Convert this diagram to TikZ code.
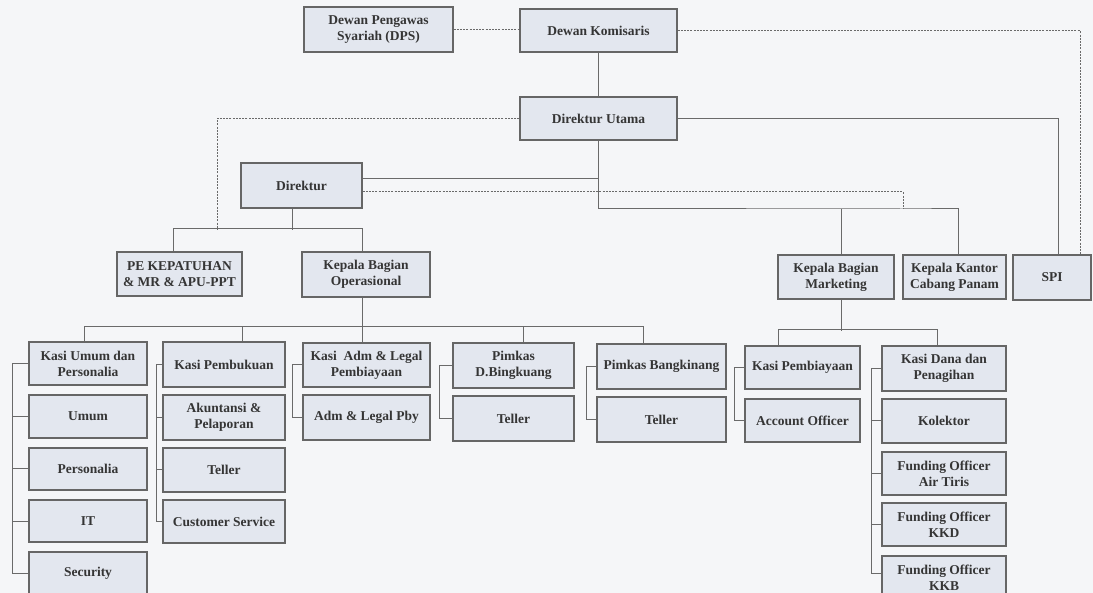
\documentclass[tikz,border=0pt]{standalone}
\usepackage{fontspec}
\setmainfont{Liberation Serif}
\usetikzlibrary{calc}
\definecolor{bg}{HTML}{F5F6F8}
\definecolor{boxfill}{HTML}{E3E7EF}
\definecolor{boxline}{HTML}{666666}
\definecolor{wirec}{HTML}{6A6A6A}
\definecolor{txt}{HTML}{353535}
\tikzset{
  box/.style={draw=boxline, line width=1.3pt, fill=boxfill, text=txt,
    font=\fontsize{13.5}{16}\selectfont\bfseries, align=center, inner sep=0pt},
  wire/.style={draw=wirec, line width=1pt},
  dsh/.style={draw=wirec, line width=1pt, dash pattern=on 2pt off 1.2pt},
}
\newcommand\bx[6]{\node[box, minimum width={#4-#2}, minimum height={#5-#3}] (#1) at ({(#2+#4)/2},{(#3+#5)/2}) {#6};}
\newcommand\brk[4]{% head, last, offset, list of middles
  \draw[wire] (#1.west) -- ++(-#3,0) |- (#2.west);
  \foreach \m in {#4} {\draw[wire] (\m.west) -- ++(-#3,0);}
}
\begin{document}
\begin{tikzpicture}[x=1pt,y=-1pt]
\fill[bg] (0,0) rectangle (1093,593);
\useasboundingbox (0,0) rectangle (1093,593);
\clip (0,0) rectangle (1093,593);

% top
\bx{dps}{304}{7}{453}{52}{Dewan Pengawas\\Syariah (DPS)}
\bx{dk}{520}{9}{677}{52}{Dewan Komisaris}
\bx{du}{520}{97}{677}{140}{Direktur Utama}
\bx{dir}{241}{163}{362}{208}{Direktur}
\bx{pe}{117}{252}{242}{296}{PE KEPATUHAN\\\& MR \& APU-PPT}
\bx{kbo}{302}{252}{430}{297}{Kepala Bagian\\Operasional}
\bx{kbm}{778}{255}{894}{299}{Kepala Bagian\\Marketing}
\bx{kkc}{903}{255}{1006}{299}{Kepala Kantor\\Cabang Panam}
\bx{spi}{1013}{255}{1091}{300}{SPI}

% column 1
\bx{kup}{29}{342}{147}{385}{Kasi Umum dan\\Personalia}
\bx{umum}{29}{395}{147}{438}{Umum}
\bx{pers}{29}{448}{147}{490}{Personalia}
\bx{it}{29}{500}{147}{542}{IT}
\bx{sec}{29}{552}{147}{594}{Security}
% column 2
\bx{kpb}{163}{342}{285}{387}{Kasi Pembukuan}
\bx{akt}{163}{395}{285}{440}{Akuntansi \&\\Pelaporan}
\bx{tel1}{163}{448}{285}{492}{Teller}
\bx{cs}{163}{500}{285}{543}{Customer Service}
% column 3
\bx{kal}{303}{343}{430}{387}{Kasi\ \ Adm \& Legal\\Pembiayaan}
\bx{alp}{303}{395}{430}{440}{Adm \& Legal Pby}
% column 4
\bx{pdb}{453}{343}{574}{388}{Pimkas\\D.Bingkuang}
\bx{tel2}{453}{396}{574}{441}{Teller}
% column 5
\bx{pbk}{597}{344}{726}{389}{Pimkas Bangkinang}
\bx{tel3}{597}{397}{726}{442}{Teller}
% column 6
\bx{ksp}{745}{346}{860}{389}{Kasi Pembiayaan}
\bx{ao}{745}{399}{860}{442}{Account Officer}
% column 7
\bx{kdp}{882}{346}{1006}{391}{Kasi Dana dan\\Penagihan}
\bx{kol}{882}{399}{1006}{443}{Kolektor}
\bx{foat}{882}{452}{1006}{495}{Funding Officer\\Air Tiris}
\bx{fokkd}{882}{503}{1006}{546}{Funding Officer\\KKD}
\bx{fokkb}{882}{556}{1006}{600}{Funding Officer\\KKB}

\coordinate (pej) at (217,229);
\coordinate (mkj) at (903,209);
\coordinate (d1) at ($(dir.east)+(0,-6.5)$);
\coordinate (d2) at ($(dir.east)+(0,6.5)$);
\coordinate (kkbt) at ($(fokkb.west)+(0,-5)$);

% top connectors
\draw[dsh] (dps.east) -- (dps.east -| dk.west);
\draw[dsh] (dk.east) -| ([xshift=28]spi.north);
\draw[wire] (dk.south) -- (du.north);
\draw[dsh] (du.west) -| (pej);
\draw[wire] (du.east) -| ([xshift=6]spi.north);
\draw[wire] (du.south) |- (mkj) -| ([xshift=3.5]kkc.north);
\draw[wire] ([xshift=5.5]kbm.north) -- ([xshift=5.5]kbm.north |- mkj);
\draw[wire] (d1) -- (d1 -| du.south);
\draw[dsh] (d2) -| (mkj);
\draw[wire] ([xshift=-9.5]dir.south) -- ++(0,21);
\draw[wire] ([xshift=-6.5]pe.north) -- ++(0,-23) -| ([xshift=-4]kbo.north);

% operasional
\draw[wire] ([xshift=-4]kbo.south) -- ([xshift=-4.5]kal.north);
\draw[wire] ([xshift=-4]kup.north) -- ++(0,-15) -| ([xshift=-18.5]pbk.north);
\draw[wire] ([xshift=18]kpb.north) -- ++(0,-15);
\draw[wire] ([xshift=9.5]pdb.north) -- ++(0,-16);

% marketing
\draw[wire] ([xshift=5.5]kbm.south) -- ++(0,31);
\draw[wire] ([xshift=-24.5]ksp.north) -- ++(0,-16) -| ([xshift=-7]kdp.north);

% brackets
\brk{kup}{sec}{16}{umum,pers,it}
\brk{kpb}{cs}{6}{akt,tel1}
\draw[wire] (kal.west) -- ++(-10,0) |- (alp.west);
\draw[wire] (pdb.west) -- ++(-13,0) |- (tel2.west);
\draw[wire] (pbk.west) -- ++(-10,0) |- (tel3.west);
\draw[wire] (ksp.west) -- ++(-10,0) |- (ao.west);
\brk{kdp}{kkbt}{10}{kol,foat,fokkd}
\end{tikzpicture}
\end{document}
